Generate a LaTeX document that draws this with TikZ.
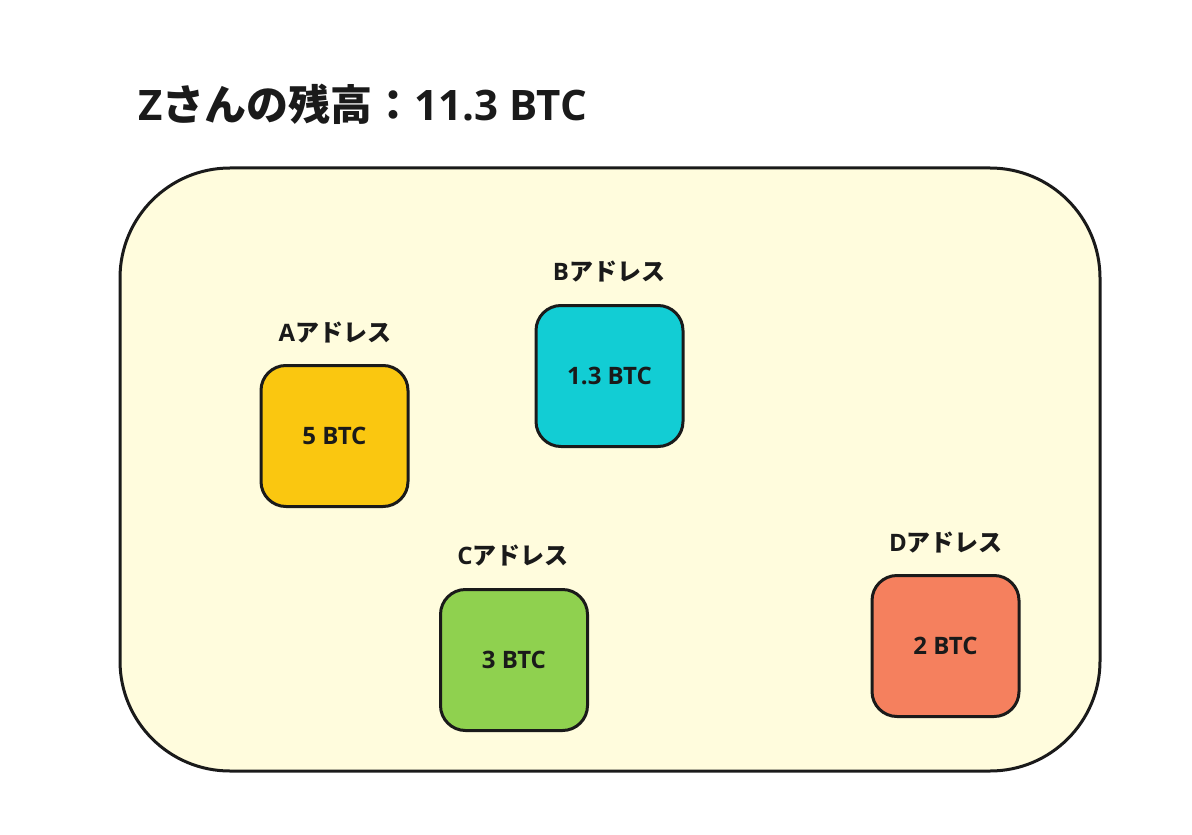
\documentclass[tikz,border=0pt]{standalone}
\usepackage{fontspec}
\setmainfont{Open Sans}
\newfontfamily\jp{Noto Sans CJK JP}
\definecolor{walletbg}{HTML}{FFFCDD}
\definecolor{edge}{HTML}{1A1A1A}
\definecolor{addrA}{HTML}{FAC710}
\definecolor{addrB}{HTML}{12CDD4}
\definecolor{addrC}{HTML}{8FD14F}
\definecolor{addrD}{HTML}{F5805E}

\begin{document}
\begin{tikzpicture}
[
x=0.5pt,y=-0.5pt,
wallet/.style={draw=edge,line width=1.5pt,fill=walletbg,rounded corners=55pt},
coin/.style={draw=edge,line width=1.5pt,fill=#1,rounded corners=12.5pt,
            minimum width=73.5pt,minimum height=70.5pt,inner sep=0pt,
            font=\bfseries\fontsize{12}{14}\selectfont,text=edge},
addr/.style={inner sep=0pt,font=\bfseries\fontsize{12}{14}\selectfont,text=edge},
]
\useasboundingbox (0,0) rectangle (1192,834);

%Title
\node[anchor=west,inner sep=0pt,text=edge,font=\bfseries\fontsize{21}{25}\selectfont] (title) at (138,104) {Z{\jp さんの残高：}11.3 BTC};

%The wallet
\draw[wallet] (120,168) rectangle (1100,771);

%Place the addresses
\node[coin=addrA] (a) at (334.5,436) {5 BTC};
\node[coin=addrB] (b) at (609.5,376) {1.3 BTC};
\node[coin=addrC] (c) at (514,660) {3 BTC};
\node[coin=addrD] (d) at (945.5,646) {2 BTC};

%Labels
\node[addr] (alab) at (335,333) {A{\jp アドレス}};
\node[addr] (blab) at (609,272) {B{\jp アドレス}};
\node[addr] (clab) at (513,556) {C{\jp アドレス}};
\node[addr] (dlab) at (946,543) {D{\jp アドレス}};
\end{tikzpicture}
\end{document}
